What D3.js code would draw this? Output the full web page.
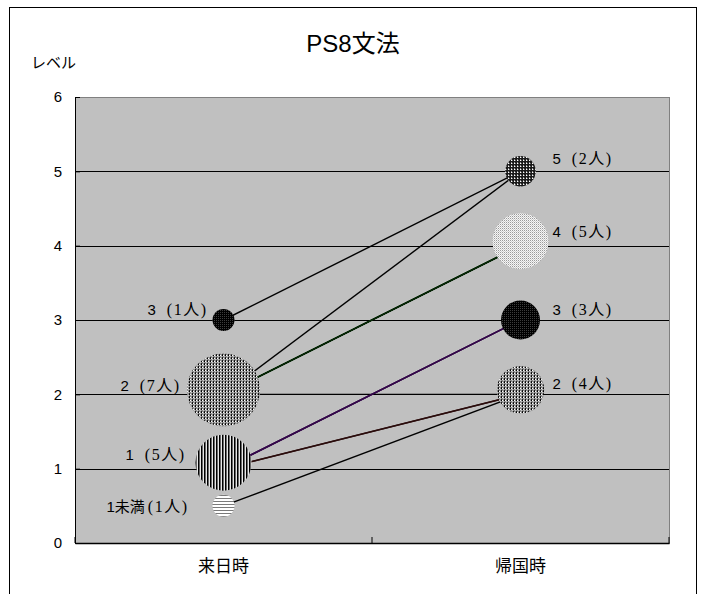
<!DOCTYPE html>
<html>
<head>
<meta charset="utf-8">
<script src="https://cdn.jsdelivr.net/npm/d3@7"></script>
<style>
  html, body { margin: 0; padding: 0; background: #fff; }
  svg { display: block; }
  text { fill: #000; }
</style>
</head>
<body>
<svg id="chart" width="706" height="594"></svg>
<script>
// ---- data ----
const categories = ["来日時", "帰国時"];
const yTicks = [0, 1, 2, 3, 4, 5, 6];

// level at arrival (来日時)
const beforeLevels = ["3", "2", "1", "1未満"];
const beforeCounts = [1, 7, 5, 1];
const beforeY = [3, 2.06, 1.08, 0.5];

// level at return (帰国時)
const afterLevels = ["5", "4", "3", "2"];
const afterCounts = [2, 5, 3, 4];
const afterY = [5, 4.06, 3, 2.06];

// each person's move: level at arrival -> level at return
const moveFrom = [3, 2, 2, 2, 2, 2, 2, 2, 1, 1, 1, 1, 1, 0.5];
const moveTo   = [5, 5, 4, 4, 4, 4, 4, 2, 3, 3, 3, 2, 2, 2];

// ---- styles ----
const beforeFill = ["pDark", "pGrid", "pVert", "pHoriz"];
const afterFill  = ["pDarkGrid", "pLight", "pDark", "pGrid"];
const moveColor = (f, t) => {
  if (f === 2 && t === 4) return "#062606";
  if (f === 1 && t === 3) return "#34084a";
  if (f === 1 && t === 2) return "#2a0c0c";
  return "#000";
};
// label placement relative to the bubble centre (px)
const beforeLabelDx = [-16, -43, -38, -35];
const beforeLabelDy = [-11, -5, -9, 0];
const afterLabelDx = [32, 32, 32, 32];
const afterLabelDy = [-13, -10, -11, -6.5];

// ---- layout ----
const svg = d3.select("#chart");
const plot = { left: 75, right: 669, top: 97, bottom: 543 };

const x = d3.scaleBand().domain(categories).range([plot.left, plot.right]).padding(0);
const cx = c => x(c) + x.bandwidth() / 2;
const y = d3.scaleLinear().domain([0, 6]).range([plot.bottom, plot.top]);
const r = d3.scaleLinear().domain([1, 7]).range([11, 36.5]);

// fill patterns
const defs = svg.append("defs");
function addPattern(id, size, bg, cells) {
  const p = defs.append("pattern").attr("id", id)
    .attr("patternUnits", "userSpaceOnUse").attr("width", size).attr("height", size);
  p.append("rect").attr("width", size).attr("height", size).attr("fill", bg)
    .attr("shape-rendering", "crispEdges");
  cells.forEach(c => p.append("rect").attr("x", c[0]).attr("y", c[1])
    .attr("width", c[2]).attr("height", c[3]).attr("fill", c[4])
    .attr("shape-rendering", "crispEdges"));
}
addPattern("pDark", 2, "#000", [[0, 0, 1, 1, "#3c3c3c"]]);
addPattern("pGrid", 3, "#8e8e8e", [[0, 0, 1, 1, "#1a1a1a"], [0, 1, 1, 1, "#000"], [1, 1, 1, 1, "#fff"], [2, 2, 1, 1, "#c8c8c8"]]);
addPattern("pVert", 3, "#e8e8e8", [[0, 0, 1, 3, "#000"], [1, 0, 1, 3, "#6a6a6a"]]);
addPattern("pHoriz", 3, "#fff", [[0, 0, 3, 1, "#7a7a7a"]]);
addPattern("pDarkGrid", 3, "#1a1a1a", [[1, 1, 1, 1, "#fff"], [1, 0, 1, 1, "#8a8a8a"], [2, 1, 1, 1, "#6a6a6a"]]);
addPattern("pLight", 2, "#f6f6f6", [[0, 0, 1, 1, "#9a9a9a"], [1, 1, 1, 1, "#cfcfcf"]]);

// chart frame
svg.append("rect").attr("x", 9.5).attr("y", 7.5).attr("width", 687).attr("height", 620)
  .attr("fill", "#fff").attr("stroke", "#000").attr("stroke-width", 1);

// plot background
svg.append("rect").attr("x", plot.left).attr("y", plot.top)
  .attr("width", plot.right - plot.left).attr("height", plot.bottom - plot.top)
  .attr("fill", "#c0c0c0").attr("stroke", "#808080").attr("stroke-width", 1)
  .attr("shape-rendering", "crispEdges");

// gridlines
svg.append("g").selectAll("line").data(yTicks.filter(v => v > 0 && v < 6)).join("line")
  .attr("x1", plot.left).attr("x2", plot.right)
  .attr("y1", d => Math.round(y(d)) + 0.5).attr("y2", d => Math.round(y(d)) + 0.5)
  .attr("stroke", "#000").attr("stroke-width", 1);

// y axis
const yAxis = svg.append("g").attr("transform", `translate(${plot.left},0)`)
  .call(d3.axisRight(y).tickValues(yTicks).tickSize(5).tickFormat(d3.format("d")));
yAxis.select(".domain").attr("stroke", "#000");
yAxis.selectAll(".tick line").attr("stroke", "#000");
yAxis.selectAll(".tick text").attr("x", -13).attr("text-anchor", "end")
  .attr("font-family", "Liberation Sans, Arial, sans-serif").attr("font-size", 15);

// x axis: ticks at the category boundaries, pointing inward
const xAxis = svg.append("g").attr("transform", `translate(0,${plot.bottom})`)
  .call(d3.axisBottom(x).tickSize(0).tickPadding(18));
xAxis.select(".domain").attr("stroke", "#000").attr("stroke-width", 1.5);
xAxis.selectAll(".tick text").attr("font-family", "Noto Sans CJK JP, sans-serif")
  .attr("font-size", 17).attr("dy", "0.62em");
xAxis.selectAll("line.boundary")
  .data([plot.left, ...categories.map(c => x(c) + x.bandwidth())])
  .join("line").attr("class", "boundary")
  .attr("x1", d => d).attr("x2", d => d).attr("y1", 0).attr("y2", -6)
  .attr("stroke", "#000");

// connecting lines
const moves = moveFrom.map((f, i) => ({ f, t: moveTo[i] }));
svg.append("g").selectAll("line").data(moves).join("line")
  .attr("x1", cx(categories[0])).attr("y1", d => y(d.f))
  .attr("x2", cx(categories[1])).attr("y2", d => y(d.t))
  .attr("stroke", d => moveColor(d.f, d.t)).attr("stroke-width", 1.4);

// bubbles
const before = beforeLevels.map((l, i) => ({ l, n: beforeCounts[i], v: beforeY[i], fill: beforeFill[i],
  dx: beforeLabelDx[i], dy: beforeLabelDy[i], c: categories[0] }));
const after = afterLevels.map((l, i) => ({ l, n: afterCounts[i], v: afterY[i], fill: afterFill[i],
  dx: afterLabelDx[i], dy: afterLabelDy[i], c: categories[1] }));
const bubbles = before.concat(after);

svg.append("g").selectAll("circle").data(bubbles).join("circle")
  .attr("cx", d => cx(d.c)).attr("cy", d => y(d.v)).attr("r", d => r(d.n))
  .attr("fill", d => `url(#${d.fill})`);

// bubble labels
const labels = svg.append("g").selectAll("text").data(bubbles).join("text")
  .attr("x", d => cx(d.c) + d.dx).attr("y", d => y(d.v) + d.dy)
  .attr("dominant-baseline", "central")
  .attr("text-anchor", d => d.c === categories[0] ? "end" : "start");
labels.append("tspan").attr("font-family", "Liberation Sans, Noto Sans CJK JP, sans-serif")
  .attr("font-size", 15)
  .text(d => d.l);
labels.append("tspan").attr("font-family", "Liberation Serif, Noto Sans CJK JP, serif")
  .attr("font-size", 16).attr("letter-spacing", 1.5)
  .attr("dx", d => d.l.length > 1 ? 3 : 11)
  .text(d => `(${d.n}人)`);

// title and axis name
svg.append("text").attr("x", 353).attr("y", 43).attr("text-anchor", "middle")
  .attr("dominant-baseline", "central")
  .attr("font-family", "Liberation Sans, Noto Sans CJK JP, sans-serif").attr("font-size", 24)
  .text("PS8文法");
svg.append("text").attr("x", 31).attr("y", 61).attr("dominant-baseline", "central")
  .attr("font-family", "Noto Sans CJK JP, sans-serif").attr("font-size", 15)
  .text("レベル");
</script>
</body>
</html>
